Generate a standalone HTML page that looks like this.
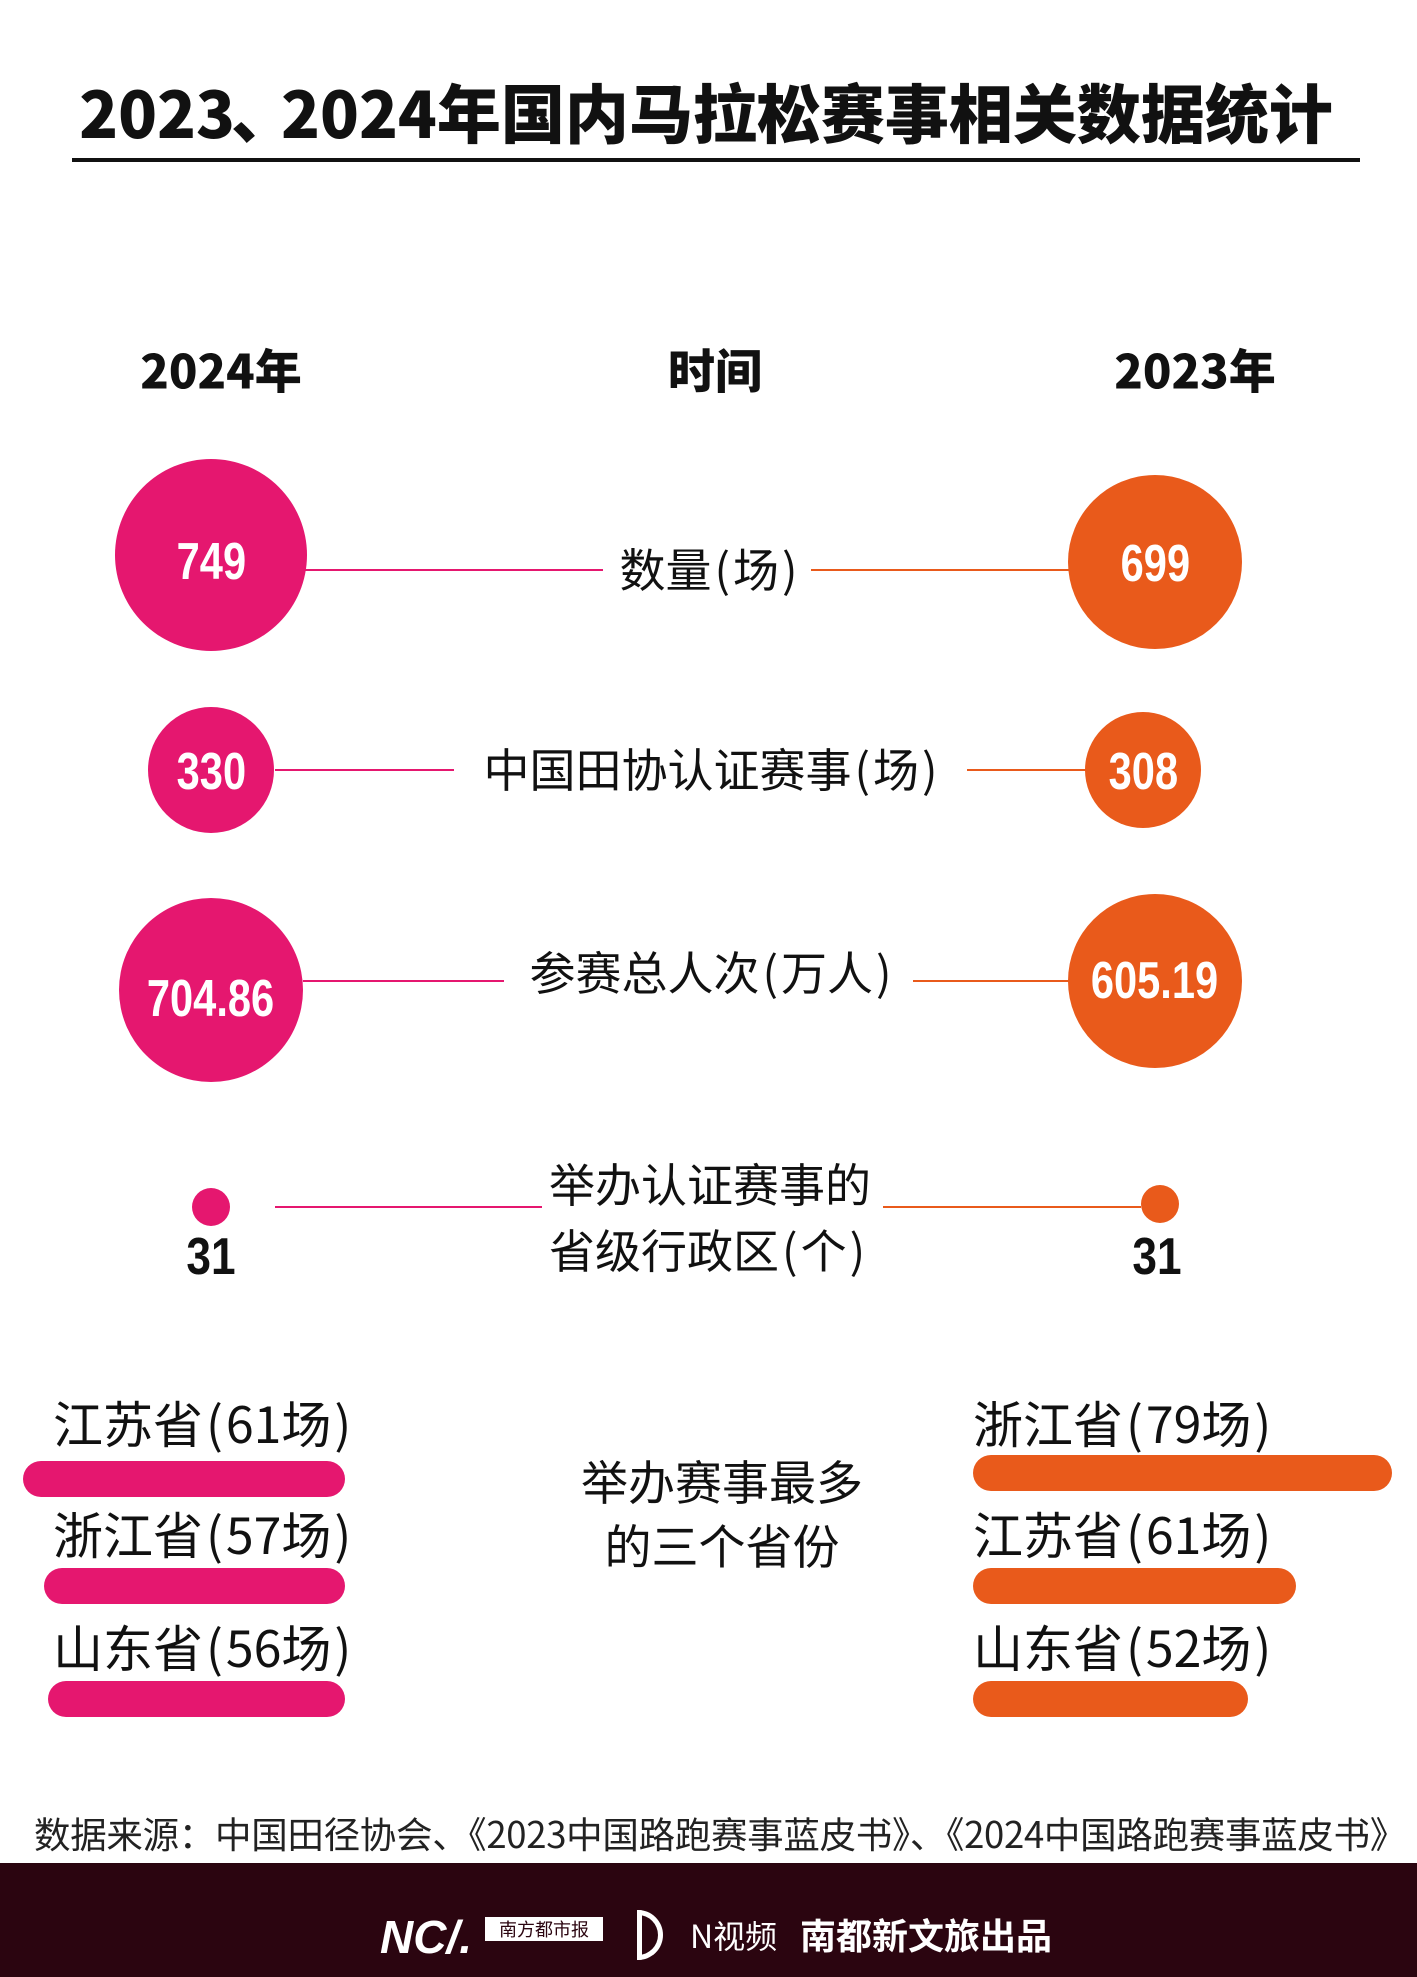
<!DOCTYPE html>
<html><head><meta charset="utf-8"><style>
body{margin:0}
#c{position:relative;width:1417px;height:1977px;background:#fff;overflow:hidden;font-family:"Liberation Sans","Noto Sans CJK SC",sans-serif;color:#111}
.a{position:absolute;white-space:nowrap}
.ctr{transform:translate(-50%,-50%)}
.circ{position:absolute;border-radius:50%;display:flex;align-items:center;justify-content:center;color:#fff;font-weight:bold;font-size:52px;transform:translate(-50%,-50%)}
.circ span{display:inline-block;transform:scaleX(0.8);margin-top:14px}
.p{background:#e5176f}.o{background:#e95a1b}
.ln{position:absolute;height:2px}
.lbl{font-size:46px;font-family:"Noto Sans CJK SC",sans-serif}
.bar{position:absolute;height:36px;border-radius:18px}
.prov{font-size:50px;font-family:"Noto Sans CJK SC",sans-serif}
i{font-style:normal;margin:0 3px}
</style></head><body><div id="c">
<div class="a ctr" style="left:706px;top:111px;font-size:64px;font-weight:900;font-family:'Noto Sans CJK SC',sans-serif;letter-spacing:0px">2023<span style="margin:0 -14px 0 -4px">、</span>2024年国内马拉松赛事相关数据统计</div>
<div class="a" style="left:72px;top:158px;width:1288px;height:4px;background:#111"></div>
<div class="a ctr" style="left:221px;top:368px;font-size:47px;font-weight:900;font-family:'Noto Sans CJK SC',sans-serif">2024年</div>
<div class="a ctr" style="left:715px;top:368px;font-size:47px;font-weight:900;font-family:'Noto Sans CJK SC',sans-serif">时间</div>
<div class="a ctr" style="left:1195px;top:368px;font-size:47px;font-weight:900;font-family:'Noto Sans CJK SC',sans-serif">2023年</div>

<div class="ln p" style="left:305px;top:569px;width:298px"></div>
<div class="ln o" style="left:811px;top:569px;width:258px"></div>
<div class="circ p" style="left:211px;top:555px;width:192px;height:192px"><span>749</span></div>
<div class="circ o" style="left:1155px;top:562px;width:174px;height:174px"><span style="margin-top:4px">699</span></div>
<div class="a ctr lbl" style="left:710px;top:568px">数量<i>(</i>场<i>)</i></div>

<div class="ln p" style="left:275px;top:769px;width:179px"></div>
<div class="ln o" style="left:967px;top:769px;width:120px"></div>
<div class="circ p" style="left:211px;top:770px;width:126px;height:126px"><span style="margin-top:4px">330</span></div>
<div class="circ o" style="left:1143px;top:770px;width:116px;height:116px"><span style="margin-top:4px">308</span></div>
<div class="a ctr lbl" style="left:712px;top:768px">中国田协认证赛事<i>(</i>场<i>)</i></div>

<div class="ln p" style="left:303px;top:980px;width:201px"></div>
<div class="ln o" style="left:913px;top:980px;width:156px"></div>
<div class="circ p" style="left:211px;top:990px;width:184px;height:184px"><span style="margin-top:18px">704.86</span></div>
<div class="circ o" style="left:1155px;top:981px;width:174px;height:174px"><span style="margin-top:0">605.19</span></div>
<div class="a ctr lbl" style="left:712px;top:971px">参赛总人次<i>(</i>万人<i>)</i></div>

<div class="ln p" style="left:275px;top:1206px;width:267px"></div>
<div class="ln o" style="left:883px;top:1206px;width:258px"></div>
<div class="circ p" style="left:211px;top:1207px;width:38px;height:38px"></div>
<div class="circ o" style="left:1160px;top:1204px;width:38px;height:38px"></div>
<div class="a ctr" style="left:211px;top:1257px;font-size:52px;font-weight:bold"><span style="display:inline-block;transform:scaleX(.85)">31</span></div>
<div class="a ctr" style="left:1157px;top:1257px;font-size:52px;font-weight:bold"><span style="display:inline-block;transform:scaleX(.85)">31</span></div>
<div class="a lbl" style="left:549px;top:1150px;line-height:66px">举办认证赛事的<br>省级行政区<i>(</i>个<i>)</i></div>

<div class="a prov" style="left:53px;top:1386px">江苏省<i>(</i>61场<i>)</i></div>
<div class="bar p" style="left:23px;top:1461px;width:322px"></div>
<div class="a prov" style="left:53px;top:1497px">浙江省<i>(</i>57场<i>)</i></div>
<div class="bar p" style="left:44px;top:1568px;width:301px"></div>
<div class="a prov" style="left:53px;top:1610px">山东省<i>(</i>56场<i>)</i></div>
<div class="bar p" style="left:48px;top:1681px;width:297px"></div>

<div class="a prov" style="left:973px;top:1386px">浙江省<i>(</i>79场<i>)</i></div>
<div class="bar o" style="left:973px;top:1455px;width:419px"></div>
<div class="a prov" style="left:973px;top:1497px">江苏省<i>(</i>61场<i>)</i></div>
<div class="bar o" style="left:973px;top:1568px;width:323px"></div>
<div class="a prov" style="left:973px;top:1610px">山东省<i>(</i>52场<i>)</i></div>
<div class="bar o" style="left:973px;top:1681px;width:275px"></div>

<div class="a" style="left:722px;top:1448px;transform:translateX(-50%);text-align:center;font-size:47px;line-height:64px;font-family:'Noto Sans CJK SC',sans-serif">举办赛事最多<br>的三个省份</div>

<div class="a" style="left:34px;top:1806px;font-size:36.5px;font-family:'Noto Sans CJK SC',sans-serif;color:#222;letter-spacing:-0.3px">数据来源：中国田径协会、《2023中国路跑赛事蓝皮书》、《2024中国路跑赛事蓝皮书》</div>

<div class="a" style="left:0;top:1863px;width:1417px;height:114px;background:#2b0510"></div>
<div class="a" style="left:380px;top:1910px;color:#fff;font-size:46px;font-style:italic;font-weight:bold">NC/.</div>
<div class="a" style="left:485px;top:1917px;width:118px;height:24px;background:#fff;color:#2b0510;font-size:18px;text-align:center;font-family:'Noto Sans CJK SC',sans-serif;line-height:24px">南方都市报</div>
<div class="a" style="left:637px;top:1910px;width:26px;height:50px;border:5px solid #fff;border-radius:0 25px 25px 0;box-sizing:border-box"></div>
<div class="a" style="left:690px;top:1912px;color:#fff;font-size:32px;font-family:'Noto Sans CJK SC',sans-serif">N视频</div>
<div class="a" style="left:800px;top:1908px;color:#fff;font-size:36px;font-weight:bold;font-family:'Noto Sans CJK SC',sans-serif">南都新文旅出品</div>
</div></body></html>
